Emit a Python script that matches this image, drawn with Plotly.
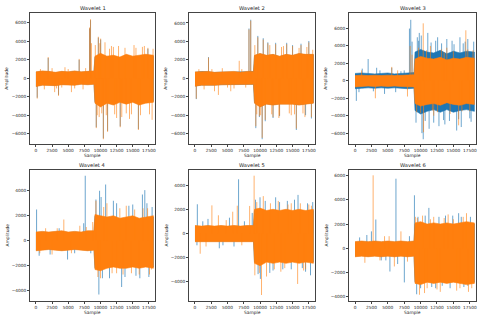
import plotly.graph_objects as go
from plotly.subplots import make_subplots

body_x = [0, 1000, 2000, 3000, 4000, 5000, 6000, 7000, 8000, 9000,
          9150, 10000, 11000, 12000, 13000, 14000, 15000, 16000, 17000, 18200]

# Wavelet 1
w1_blue_hi = [650, 750, 700, 600, 700, 650, 750, 650, 700, 750, 2300, 2600, 2300, 2400, 2200, 2500, 2300, 2400, 2500, 2400]
w1_blue_lo = [-850, -700, -700, -750, -650, -650, -700, -600, -650, -600, -2600, -3000, -2600, -2800, -2500, -2700, -2500, -2800, -2600, -2500]
w1_blue_spike_x = [200, 1900, 3500, 6700, 8300, 8460, 9350, 9670, 10030, 10450, 11100, 13060, 15880, 17350]
w1_blue_spike_y = [-2100, 2200, -1800, 2000, 5400, 6300, -5300, 4400, 4200, -6500, -5700, -5200, -5500, 3200]
w1_orange_hi = [700, 800, 750, 650, 750, 700, 800, 700, 750, 800, 2400, 2700, 2400, 2500, 2300, 2600, 2400, 2500, 2600, 2500]
w1_orange_lo = [-900, -750, -750, -800, -700, -700, -750, -650, -700, -650, -2700, -3100, -2700, -2900, -2600, -2800, -2600, -2900, -2700, -2600]
w1_orange_spike_x = [200, 1900, 2900, 3500, 4500, 5500, 6700, 7300, 8300, 8460, 8600, 9350, 9670, 9800, 10030,
                     10450, 10700, 11100, 11700, 12200, 12500, 13060, 13800, 14500, 15200, 15880, 16500, 17350, 18000,
                     700, 1300, 2500, 3200, 4000, 5000, 6000, 7700,
                     9200, 9500, 9900, 10200, 10900, 11400, 12000, 12800, 13300, 14000, 14800, 15500, 16200, 16800,
                     17600, 18150]
w1_orange_spike_y = [-2200, 2300, -1500, -1900, 1200, -1500, 2100, -1200, 5500, 6400, 3800, -5400, 4500, -4200, 4300,
                     -6600, 3900, -5800, 3500, -3900, -4300, -5300, 3300, -4400, 3600, -5600, 3400, 3300, -4500,
                     1000, -1200, 1100, -1100, -1000, 1000, -1100, 1100,
                     3600, -4000, 3800, -3800, -4000, 3200, 3400, 3500, -4200, -3800, -3900, 3300, -4000, 3500,
                     -3900, 3200]

# Wavelet 2
w2_blue_hi = [650, 730, 710, 630, 670, 670, 710, 630, 710, 730, 2450, 2650, 2450, 2550, 2350, 2550, 2450, 2650, 2550, 2550]
w2_blue_lo = [-830, -730, -730, -730, -680, -630, -680, -630, -630, -630, -2650, -3050, -2750, -2850, -2750, -2750, -2750, -2850, -2750, -2650]
w2_blue_spike_x = [200, 2080, 8300, 8570, 9350, 9660, 10330, 10490, 10800, 12400, 14100, 15580, 16300, 17500, 17900,
                   9900, 11200, 12000, 13000, 15000, 17000]
w2_blue_spike_y = [-2250, 2300, 5400, 6350, -5400, 4600, -6600, 4350, -4650, 3850, 3850, -5600, 3750, 4050, -4350,
                   -4200, 3900, -4300, -4100, 3600, -4000]
w2_orange_hi = [700, 750, 750, 650, 700, 700, 750, 650, 750, 750, 2500, 2700, 2500, 2600, 2400, 2600, 2500, 2700, 2600, 2600]
w2_orange_lo = [-850, -750, -750, -750, -700, -650, -700, -650, -650, -650, -2700, -3100, -2800, -2900, -2800, -2800, -2800, -2900, -2800, -2700]
w2_orange_spike_x = [200, 2080, 3000, 3600, 5500, 6800, 8300, 8570, 9350, 9660, 10100, 10330, 10490, 10800, 11500,
                     12400, 12900, 13600, 14100, 14800, 15580, 16300, 16900, 17500, 17900,
                     600, 1400, 2600, 4200, 5000, 6000, 7200, 7800,
                     9200, 9500, 9900, 11200, 11800, 12000, 13000, 13300, 14500, 15000, 15300, 16000, 16600, 17200,
                     18100]
w2_orange_spike_y = [-2200, 2250, -1400, -1800, -1400, 1900, 5300, 6250, -5200, 4450, -4000, -6450, 4200, -4500, 3600,
                     3700, -4300, 3500, 3700, -4000, -5450, 3600, -4200, 3900, -4200,
                     1000, -1200, 1000, 1100, -1000, -1100, 1000, -1000,
                     3600, -3900, -4100, 3800, -3900, -4200, -4000, 3400, -3800, 3500, -3900, 3300, -3800, 3400,
                     3100]

# Wavelet 3
w3_blue_hi = [850, 900, 850, 800, 850, 900, 800, 850, 900, 950, 3300, 3600, 3300, 3200, 3500, 3100, 3400, 3200, 3400, 3300]
w3_blue_lo = [-900, -850, -800, -850, -800, -850, -800, -850, -900, -850, -3400, -3800, -3500, -3300, -3600, -3300, -3600, -3400, -3300, -3500]
w3_blue_spike_x = [200, 1100, 2000, 3300, 4500, 5600, 7000, 8300, 8500, 8700, 9500, 9800, 10100, 10200, 10400,
                   11100, 11300, 12000, 12600, 12800, 13700, 14000, 14800, 15500, 16000, 16200, 16800, 17200, 17700, 18100,
                   600, 2800, 3800, 6200, 7500,
                   9300, 9700, 10700, 11600, 12300, 13200, 13500, 14400, 15100, 15800, 16500, 17500]
w3_blue_spike_y = [-2300, 1400, 2500, 1500, -1500, 1500, 1100, 6000, 7000, 4500, 5000, 5500, 5200, -6000, -6700,
                   5500, -5500, -4800, 5000, -5200, -5000, 4800, 4600, -5700, 5000, -5300, 4500, 4800, -4700, 4500,
                   -1300, -1200, 1200, -1300, 1200,
                   -4800, 4600, -4600, 4400, 4600, 4300, -4500, -4600, 4200, -4400, 4300, -4300]
w3_orange_hi = [600, 650, 600, 650, 600, 650, 600, 650, 700, 700, 2500, 2800, 2600, 2500, 2700, 2400, 2600, 2500, 2700, 2600]
w3_orange_lo = [-700, -650, -600, -650, -600, -650, -600, -650, -700, -700, -2600, -2900, -2700, -2600, -2800, -2500, -2700, -2800, -2600, -2700]
w3_orange_spike_x = [1000, 3100, 5600, 6500, 8000, 8400, 8700, 9400, 10400, 10450, 11500, 12000, 13200, 14000, 14500,
                     15800, 16900, 17500, 18000,
                     9700, 10000, 10900, 11800, 12600, 13600, 15000, 16300, 17200]
w3_orange_spike_y = [1200, -2000, 1600, 1200, -1800, 4000, 3000, -3600, 6600, -5900, 4000, -4000, 3600, 3800, -3800,
                     -5100, 5800, -3500, 3500,
                     3800, -3700, 3500, -3400, -3600, 3300, 3400, -3500, 3600]

# Wavelet 4
w4_blue_hi = [650, 700, 650, 700, 750, 650, 700, 650, 750, 750, 2000, 1900, 1800, 1900, 1700, 1800, 1900, 1700, 1800, 1900]
w4_blue_lo = [-750, -700, -650, -700, -750, -700, -650, -700, -750, -700, -2200, -2300, -2100, -2000, -2100, -2100, -2000, -2100, -2000, -2100]
w4_blue_spike_x = [100, 500, 4900, 7400, 7640, 8500, 9750, 9860, 10300, 10800, 12000, 13280, 14400, 15500, 16500,
                   16870, 17500, 18000,
                   2200, 3600, 6000,
                   9300, 10100, 11400, 12500, 13800, 15000, 16100, 17200]
w4_blue_spike_y = [2500, -1200, -1500, 1400, 5200, -1000, -4300, 4000, -3000, 4500, 3200, -3700, 2800, -2800, 3700,
                   4050, -2900, 2700,
                   -1100, 1000, -1000,
                   3300, 3500, -3000, 3000, -2900, 2900, -3000, 3000]
w4_orange_hi = [700, 750, 700, 750, 800, 700, 750, 700, 800, 800, 2100, 2000, 1900, 2000, 1800, 1900, 2000, 1800, 1900, 2000]
w4_orange_lo = [-800, -750, -700, -750, -800, -750, -700, -750, -800, -750, -2300, -2400, -2200, -2100, -2200, -2200, -2100, -2200, -2100, -2200]
w4_orange_spike_x = [1500, 2500, 4320, 6800, 8800, 9300, 10000, 11000, 12500, 14000, 16000, 17300, 17900,
                     600, 3300, 5500, 7800,
                     9600, 10500, 11800, 13000, 13500, 14800, 15300, 16600, 17600]
w4_orange_spike_y = [1000, -1100, 1700, 1200, 1500, 3200, -3000, 3000, -2600, 2800, -2700, 2600, -2300,
                     -1000, 1000, -1000, 1100,
                     -2900, 2700, -2600, 2600, -2700, -2600, 2500, 2600, -2700]

# Wavelet 5
w5_blue_hi = [600, 550, 600, 550, 600, 550, 600, 550, 600, 600, 1900, 2000, 1800, 1900, 1800, 1900, 1800, 1900, 1800, 1900]
w5_blue_lo = [-650, -600, -650, -600, -650, -600, -650, -600, -650, -650, -2400, -2600, -2300, -2400, -2300, -2400, -2300, -2400, -2300, -2400]
w5_blue_spike_x = [300, 360, 2000, 3740, 5300, 6000, 6700, 8800, 10000, 10050, 11500, 12400, 13500, 14200, 15840,
                   16500, 17300, 17760,
                   1200, 4300, 7600,
                   9300, 9700, 10800, 12000, 13000, 14800, 15300, 17000, 18100]
w5_blue_spike_y = [-1000, 2420, 1200, -1250, 1300, -1100, 4500, 1700, 3000, -3800, -3300, 3000, -3000, 2700, 3200,
                   -2900, 2500, -3500,
                   1000, -1000, 1000,
                   2800, -3400, 2700, -3100, 2600, -3000, 2800, -3200, 2600]
w5_orange_hi = [650, 600, 650, 600, 650, 600, 650, 600, 650, 650, 2000, 2100, 1900, 2000, 1900, 2000, 1900, 2000, 1900, 2000]
w5_orange_lo = [-700, -650, -700, -650, -700, -650, -700, -650, -700, -700, -2500, -2700, -2400, -2500, -2400, -2500, -2400, -2500, -2400, -2500]
w5_orange_spike_x = [800, 2600, 3600, 5800, 6500, 8400, 9090, 9200, 10230, 10500, 11000, 12800, 13200, 14800, 15780,
                     17000, 17900,
                     1700, 4800, 7200,
                     9500, 9900, 11600, 12200, 13800, 14300, 16200, 16700, 17500]
w5_orange_spike_y = [-1700, 2330, 1500, 1800, 2300, 2280, 4800, -3500, -5140, 3100, -3600, 2700, -3200, 2500, -4220,
                     -3000, 2300,
                     -1100, 1100, -1000,
                     2600, -3300, 2500, -3000, -2900, 2400, 2500, -3100, 2400]

# Wavelet 6
w6_blue_hi = [500, 550, 500, 550, 500, 550, 500, 550, 500, 550, 2000, 2100, 1900, 2000, 1900, 2000, 1900, 2000, 2100, 2000]
w6_blue_lo = [-650, -600, -650, -600, -650, -600, -650, -600, -650, -600, -2800, -2900, -2700, -2800, -2700, -2800, -2700, -2800, -2900, -2800]
w6_blue_spike_x = [1800, 2500, 3170, 4000, 5320, 6240, 6500, 7520, 9060, 9400, 9600, 11260, 12300, 13800, 14500,
                   15800, 16600, 17600,
                   700, 4700, 8300,
                   10000, 10700, 11700, 12800, 13300, 14900, 16200, 17200]
w6_blue_spike_y = [1100, 1400, 2380, -1000, -1920, 5750, -1300, -2820, 4380, -3800, 2600, 3340, -3300, 2700, -3300,
                   2900, -3200, 2600,
                   900, -1000, 1000,
                   -3300, 2700, -3200, 2600, -3100, 2700, 2600, -3100]
w6_orange_hi = [550, 600, 550, 600, 550, 600, 550, 600, 550, 600, 2100, 2200, 2000, 2100, 2000, 2100, 2000, 2100, 2200, 2100]
w6_orange_lo = [-700, -650, -700, -650, -700, -650, -700, -650, -700, -650, -2900, -3000, -2800, -2900, -2800, -2900, -2800, -2900, -3000, -2900]
w6_orange_spike_x = [1500, 2760, 4500, 6000, 7000, 9200, 9830, 10300, 10600, 12000, 13000, 14200, 15500, 17000, 17300,
                     3800, 5200, 8000,
                     9500, 11000, 11500, 12500, 13600, 15000, 16000, 16500, 17800]
w6_orange_spike_y = [-1200, 6030, 1000, -1500, 1400, 2600, -3840, 2700, -3700, 2600, -3600, 2800, -3500, 2900, -3600,
                     -1000, 1000, -1100,
                     2500, -3300, 2400, -3400, 2500, 2400, -3300, 2600, -3300]

titles = ['Wavelet 1', 'Wavelet 2', 'Wavelet 3', 'Wavelet 4', 'Wavelet 5', 'Wavelet 6']
x_ticks = [0, 2500, 5000, 7500, 10000, 12500, 15000, 17500]
x_tick_text = ['0', '2500', '5000', '7500', '10000', '12500', '15000', '17500']

panels = [
    (w1_blue_hi, w1_blue_lo, w1_blue_spike_x, w1_blue_spike_y, w1_orange_hi, w1_orange_lo, w1_orange_spike_x, w1_orange_spike_y),
    (w2_blue_hi, w2_blue_lo, w2_blue_spike_x, w2_blue_spike_y, w2_orange_hi, w2_orange_lo, w2_orange_spike_x, w2_orange_spike_y),
    (w3_blue_hi, w3_blue_lo, w3_blue_spike_x, w3_blue_spike_y, w3_orange_hi, w3_orange_lo, w3_orange_spike_x, w3_orange_spike_y),
    (w4_blue_hi, w4_blue_lo, w4_blue_spike_x, w4_blue_spike_y, w4_orange_hi, w4_orange_lo, w4_orange_spike_x, w4_orange_spike_y),
    (w5_blue_hi, w5_blue_lo, w5_blue_spike_x, w5_blue_spike_y, w5_orange_hi, w5_orange_lo, w5_orange_spike_x, w5_orange_spike_y),
    (w6_blue_hi, w6_blue_lo, w6_blue_spike_x, w6_blue_spike_y, w6_orange_hi, w6_orange_lo, w6_orange_spike_x, w6_orange_spike_y),
]

y_ranges = [[-7150, 7040], [-7150, 7050], [-7280, 7750], [-4820, 5660], [-5640, 5275], [-4355, 6470]]

# pixel layout of the 480x323 figure
W, H = 480, 323
col_px = [(30, 155), (189, 315), (349, 476)]
row_px = [(13.3, 144.3), (170, 301)]

BLUE = '#1f77b4'
ORANGE = '#ff7f0e'
FONT = 'DejaVu Sans'
TXT = '#262626'

fig = make_subplots(rows=2, cols=3)


def band(hi, lo, color):
    return go.Scatter(x=body_x + body_x[::-1], y=hi + lo[::-1], fill='toself', fillcolor=color,
                      mode='lines', line=dict(color=color, width=0.6), hoverinfo='skip', showlegend=False)


def stems(sx, sy, color):
    xs, ys = [], []
    for a, b in zip(sx, sy):
        xs += [a, a, None]
        ys += [0, b, None]
    return go.Scatter(x=xs, y=ys, mode='lines', line=dict(color=color, width=1),
                      hoverinfo='skip', showlegend=False)


def label(text, x, y, size, angle=0):
    return dict(text=text, x=x, y=y, xref='paper', yref='paper', xanchor='center', yanchor='middle',
                textangle=angle, showarrow=False, font=dict(family=FONT, size=size, color=TXT))


annotations = []
for i, p in enumerate(panels):
    r, c = i // 3 + 1, i % 3 + 1
    bh, bl, bsx, bsy, oh, ol, osx, osy = p
    fig.add_trace(band(bh, bl, BLUE), row=r, col=c)
    fig.add_trace(stems(bsx, bsy, 'rgba(31,119,180,0.65)'), row=r, col=c)
    fig.add_trace(band(oh, ol, ORANGE), row=r, col=c)
    fig.add_trace(stems(osx, osy, 'rgba(255,127,14,0.6)'), row=r, col=c)

    x0, x1 = col_px[c - 1]
    y0, y1 = row_px[r - 1]
    ax = '' if i == 0 else str(i + 1)
    fig.layout['xaxis' + ax].update(
        domain=[x0 / W, x1 / W], range=[-920, 18450], tickvals=x_ticks, ticktext=x_tick_text,
        tickangle=0, automargin=False,
        showline=True, mirror=True, linecolor='#444', linewidth=0.8,
        ticks='outside', ticklen=2, tickwidth=0.6, tickcolor='#444',
        showgrid=False, zeroline=False, tickfont=dict(family=FONT, size=4.3, color=TXT))
    fig.layout['yaxis' + ax].update(
        domain=[1 - y1 / H, 1 - y0 / H], range=y_ranges[i], dtick=2000, automargin=False,
        showline=True, mirror=True, linecolor='#444', linewidth=0.8,
        ticks='outside', ticklen=2, tickwidth=0.6, tickcolor='#444',
        showgrid=False, zeroline=False, tickfont=dict(family=FONT, size=4.3, color=TXT))

    cx = (x0 + x1) / 2 / W
    annotations.append(label(titles[i], cx, 1 - (y0 - 5) / H, 5.2))
    annotations.append(label('Sample', cx, 1 - (y1 + 11) / H, 4.4))
    annotations.append(label('Amplitude', (x0 - 23) / W, 1 - (y0 + y1) / 2 / H, 4.4, -90))

fig.update_layout(width=W, height=H, margin=dict(l=0, r=0, t=0, b=0, autoexpand=False),
                  paper_bgcolor='white', plot_bgcolor='white', annotations=annotations)

# the page body has a default 8px margin; drop it so the figure fills the window
fig.write_html('out.html', config={'displayModeBar': False},
               post_script="document.body.style.margin='0';")
